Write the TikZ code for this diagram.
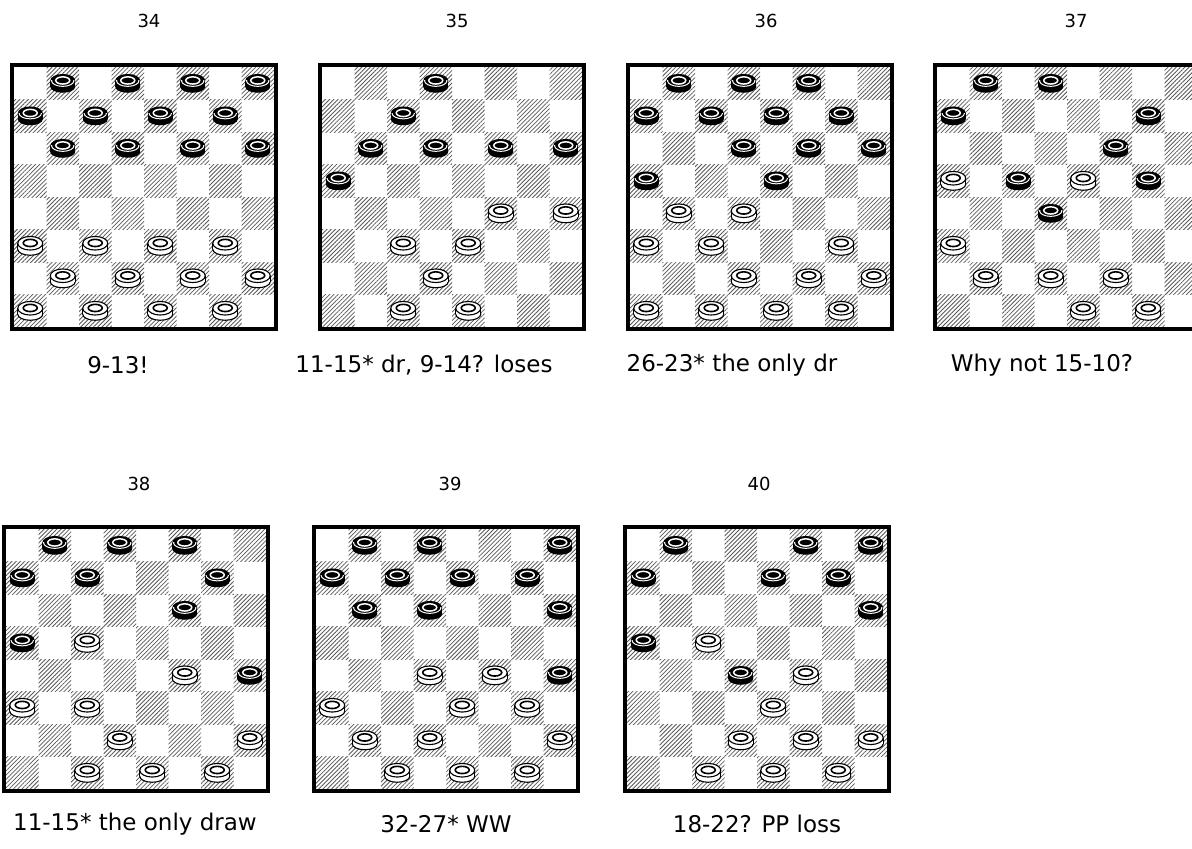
\documentclass[tikz,border=0pt]{standalone}
\usepackage{fontspec}
\setmainfont{DejaVu Sans}
\usetikzlibrary{patterns.meta}
\tikzset{
  hatch/.style={pattern={Lines[angle=45,distance=3pt,line width=0.8pt]},pattern color=black!65},
  frame/.style={line width=4pt,draw=black},
  caption/.style={font=\fontsize{23}{27}\selectfont,anchor=center,inner sep=0pt},
  number/.style={font=\fontsize{18}{21}\selectfont,anchor=center,inner sep=0pt},
  bp/.pic={
    \fill[black] (0,3.5) ellipse[x radius=12.5pt,y radius=6pt];
    \fill[black] (-12.5,-2.5) rectangle (12.5,3.5);
    \fill[black] (0,-2.5) ellipse[x radius=12.5pt,y radius=6.8pt];
    \begin{scope}
      \clip (-14,-2.5) rectangle (14,6);
      \draw[white,line width=1pt] (0,-2.5) ellipse[x radius=11.2pt,y radius=5.6pt];
    \end{scope}
    \draw[white,line width=1.5pt] (0,-2.8) ellipse[x radius=7pt,y radius=3.6pt];
  },
  wp/.pic={
    \filldraw[fill=white,draw=black,line width=1.1pt] (0,3.5) ellipse[x radius=12.5pt,y radius=6pt];
    \fill[white] (-12.5,-2.5) rectangle (12.5,3.5);
    \draw[line width=1.1pt] (-12.5,-2.5) -- (-12.5,3.5) (12.5,-2.5) -- (12.5,3.5);
    \filldraw[fill=white,draw=black,line width=1.1pt] (0,-2.5) ellipse[x radius=12.5pt,y radius=6.8pt];
    \draw[line width=1.6pt] (0,-2.8) ellipse[x radius=7pt,y radius=3.6pt];
  }
}
\newcommand\drawboard[4]{%
  \begin{scope}[shift={(#1,#2)}]
    \fill[white] (2,2) rectangle (266,266);
    \foreach \r in {1,...,8}{
      \foreach \c in {1,...,8}{
        \pgfmathtruncatemacro\sqpar{mod(\r+\c,2)}
        \ifnum\sqpar=1
          \fill[hatch] ({4+(\c-1)*32.5},{4+(\r-1)*32.5}) rectangle ++(32.5,32.5);
        \fi
      }
    }
    \draw[frame] (2,2) rectangle (266,266);
    \foreach \r/\c in {#3}{ \pic at ({4+(\c-0.5)*32.5},{4+(\r-0.5)*32.5}) {bp}; }
    \foreach \r/\c in {#4}{ \pic at ({4+(\c-0.5)*32.5},{4+(\r-0.5)*32.5}) {wp}; }
  \end{scope}
}
\begin{document}
\begin{tikzpicture}[x=1pt,y=-1pt]
\useasboundingbox (0,0) rectangle (1192,849);
\clip (0,0) rectangle (1192,849);
\fill[white] (0,0) rectangle (1192,849);

% Board 34
\drawboard{10}{63}{1/2,1/4,1/6,1/8,2/1,2/3,2/5,2/7,3/2,3/4,3/6,3/8}{6/1,6/3,6/5,6/7,7/2,7/4,7/6,7/8,8/1,8/3,8/5,8/7}
% Board 35
\drawboard{318}{63}{1/4,2/3,3/2,3/4,3/6,3/8,4/1}{5/6,5/8,6/3,6/5,7/4,8/3,8/5}
% Board 36
\drawboard{626}{63}{1/2,1/4,1/6,2/1,2/3,2/5,2/7,3/4,3/6,3/8,4/1,4/5}{5/2,5/4,6/1,6/3,6/7,7/4,7/6,7/8,8/1,8/3,8/5,8/7}
% Board 37
\drawboard{933}{63}{1/2,1/4,2/1,2/7,3/6,4/3,4/7,5/4}{4/1,4/5,6/1,7/2,7/4,7/6,8/5,8/7}
% Board 38
\drawboard{2}{525}{1/2,1/4,1/6,2/1,2/3,2/7,3/6,4/1,5/8}{4/3,5/6,6/1,6/3,7/4,7/8,8/3,8/5,8/7}
% Board 39
\drawboard{312}{525}{1/2,1/4,1/8,2/1,2/3,2/5,2/7,3/2,3/4,3/8,5/8}{5/4,5/6,6/1,6/5,6/7,7/2,7/4,7/8,8/3,8/5,8/7}
% Board 40
\drawboard{623}{525}{1/2,1/6,1/8,2/1,2/5,2/7,3/8,4/1,5/4}{4/3,5/6,6/5,7/4,7/6,7/8,8/3,8/5,8/7}

% numbers
\node[number] (n34) at (149,21) {34};
\node[number] (n35) at (457,21) {35};
\node[number] (n36) at (766,21) {36};
\node[number] (n37) at (1076,21) {37};
\node[number] (n38) at (139,484) {38};
\node[number] (n39) at (450,484) {39};
\node[number] (n40) at (759,484) {40};

% captions
\node[caption] (c34) at (118,365) {9-13!};
\node[caption] (c35) at (424,365) {11-15* dr, 9-14? loses};
\node[caption] (c36) at (732,365) {26-23* the only dr};
\node[caption] (c37) at (1042,365) {Why not 15-10?};
\node[caption] (c38) at (135,824) {11-15* the only draw};
\node[caption] (c39) at (446,824) {32-27* WW};
\node[caption] (c40) at (757,824) {18-22? PP loss};
\end{tikzpicture}
\end{document}
